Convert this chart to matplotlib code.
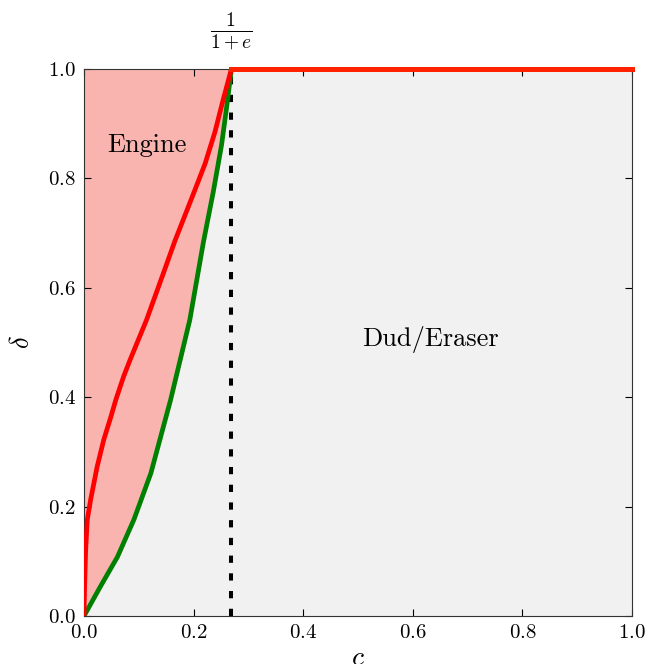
import numpy as np
import matplotlib
matplotlib.use("Agg")
import matplotlib.pyplot as plt

plt.rcParams['font.family'] = 'serif'
plt.rcParams['font.serif'] = ['cmr10']
plt.rcParams['mathtext.fontset'] = 'cm'
plt.rcParams['axes.unicode_minus'] = False
plt.rcParams['axes.formatter.use_mathtext'] = True

# threshold c = 1/(1+e)
c_star = 0.269

# upper boundary (red)
red_c = [0, 0.001, 0.003, 0.006, 0.012, 0.024, 0.036, 0.049, 0.058, 0.072,
         0.084, 0.114, 0.145, 0.166, 0.197, 0.221, 0.239, 0.254, 0.269]
red_d = [0, 0.05, 0.12, 0.176, 0.212, 0.273, 0.322, 0.364, 0.395, 0.437,
         0.468, 0.541, 0.627, 0.686, 0.765, 0.827, 0.885, 0.944, 1.0]

# lower boundary (green)
green_c = [0, 0.030, 0.061, 0.091, 0.122, 0.140, 0.158, 0.193, 0.218, 0.236,
           0.251, 0.260, 0.269]
green_d = [0, 0.054, 0.108, 0.176, 0.261, 0.328, 0.395, 0.541, 0.684, 0.776,
           0.861, 0.928, 1.0]

top_c = [0.269, 1.0]
top_d = [1.0, 1.0]

xticks = [0.0, 0.2, 0.4, 0.6, 0.8, 1.0]
yticks = [0.0, 0.2, 0.4, 0.6, 0.8, 1.0]

fig = plt.figure(figsize=(6.61, 6.64), dpi=100)
ax = fig.add_axes([84/661., 48/664., 548/661., 547/664.])
ax.set_facecolor('#f1f1f1')

ax.fill_between(green_c, green_d, 1.0, color='#f9b4b0', lw=0, zorder=1)
ax.plot([c_star, c_star], [0, 1], color='k', lw=2.9, ls=(0, (1.8, 2.6)), zorder=2)
ax.plot(green_c, green_d, color='green', lw=3.4, zorder=3, solid_joinstyle='round')
ax.plot(red_c, red_d, color='red', lw=3.4, zorder=4, solid_joinstyle='round')
ax.plot(top_c, top_d, color='#ff2200', lw=3.6, zorder=5, clip_on=False)

ax.set_xlim(0, 1)
ax.set_ylim(0, 1)
ax.set_xticks(xticks)
ax.set_yticks(yticks)
ax.tick_params(direction='in', top=True, right=True, labelsize=15, length=5, pad=6)
for s in ax.spines.values():
    s.set_color('#333333')

ax.text(0.115, 0.86, 'Engine', fontsize=19, ha='center', va='center')
ax.text(0.633, 0.505, 'Dud/Eraser', fontsize=19, ha='center', va='center')
ax.text(c_star, 1.03, r'$\frac{1}{1+e}$', fontsize=20, ha='center', va='bottom')

ax.set_ylabel(r'$\delta$', fontsize=19, labelpad=10)
ax.set_xlabel(r'$c$', fontsize=20, labelpad=2)

fig.savefig('out.png', dpi=100)
